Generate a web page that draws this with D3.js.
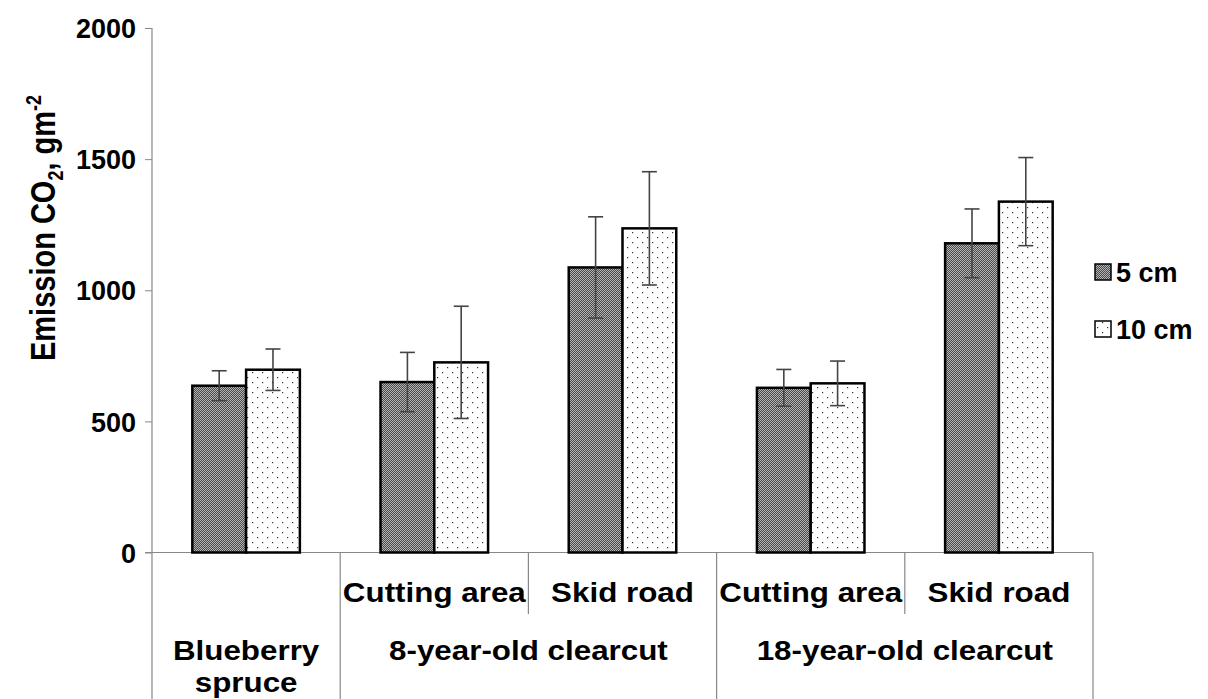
<!DOCTYPE html>
<html>
<head>
<meta charset="utf-8">
<script src="https://cdn.jsdelivr.net/npm/d3@7"></script>
<style>
  html, body { margin: 0; padding: 0; background: #fff; }
  svg { display: block; font-family: "Liberation Sans", Arial, sans-serif; font-weight: bold; }
</style>
</head>
<body>
<svg id="chart" width="1208" height="699"></svg>
<script>
// Site / position categories along the x axis
const categories = ["bs", "c8-cut", "c8-skid", "c18-cut", "c18-skid"];
const subLabels = ["", "Cutting area", "Skid road", "Cutting area", "Skid road"];
// Upper-level groups: label lines and the category index range they cover
const groupNames = [["Blueberry", "spruce"], ["8-year-old clearcut"], ["18-year-old clearcut"]];
const groupSpans = [[0, 1], [1, 3], [3, 5]];

// CO2 emission, g m^-2, by sampling depth, with error bars
const seriesNames = ["5 cm", "10 cm"];
const values5 = [636, 650, 1087, 628, 1179];
const errors5 = [57, 113, 193, 70, 131];
const values10 = [697, 725, 1236, 645, 1338];
const errors10 = [79, 214, 216, 85, 168];

const yTicks = [0, 500, 1000, 1500, 2000];

const svg = d3.select("#chart");
const plotLeft = 152, plotRight = 1093, plotTop = 28, plotBottom = 552.5;
const textStretch = 1.12;

const x = d3.scaleBand().domain(categories).range([plotLeft, plotRight]).padding(0);
const y = d3.scaleLinear().domain([0, 2000]).range([plotBottom, plotTop]);
const xs = d3.scaleBand().domain(seriesNames).range([0, x.bandwidth()]).paddingOuter(0.75).paddingInner(0);

// Fill patterns
const defs = svg.append("defs");
const p1 = defs.append("pattern").attr("id", "pat5").attr("patternUnits", "userSpaceOnUse")
  .attr("width", 2).attr("height", 2);
p1.append("rect").attr("width", 2).attr("height", 2).attr("fill", "#4a4a4a");
p1.append("rect").attr("width", 1).attr("height", 1).attr("fill", "#b4b4b4");
p1.append("rect").attr("x", 1).attr("y", 1).attr("width", 1).attr("height", 1).attr("fill", "#b4b4b4");

const p2 = defs.append("pattern").attr("id", "pat10").attr("patternUnits", "userSpaceOnUse")
  .attr("width", 10).attr("height", 10);
p2.append("rect").attr("width", 10).attr("height", 10).attr("fill", "#fff");
p2.append("rect").attr("x", 2).attr("y", 2).attr("width", 1.2).attr("height", 1.2).attr("fill", "#333");
p2.append("rect").attr("x", 7).attr("y", 7).attr("width", 1.2).attr("height", 1.2).attr("fill", "#333");

const fills = { "5 cm": "url(#pat5)", "10 cm": "url(#pat10)" };

// Y axis
const yAxis = d3.axisLeft(y).tickValues(yTicks).tickSize(7).tickPadding(9).tickFormat(d3.format("d"));
const gy = svg.append("g").attr("transform", `translate(${plotLeft},0)`).call(yAxis);
gy.select(".domain").remove();
gy.selectAll(".tick line").attr("stroke", "#888");
gy.selectAll(".tick text").attr("font-size", 27).attr("font-weight", "bold")
  .attr("fill", "#000").attr("font-family", "Liberation Sans, Arial, sans-serif").attr("dy", "0.36em");

// Axis lines
svg.append("line").attr("x1", plotLeft).attr("x2", plotLeft).attr("y1", plotTop).attr("y2", 699)
  .attr("stroke", "#888").attr("stroke-width", 1.2);
svg.append("line").attr("x1", plotLeft - 7).attr("x2", plotRight).attr("y1", plotBottom).attr("y2", plotBottom)
  .attr("stroke", "#888").attr("stroke-width", 1.2);

// Category separators below the axis
categories.forEach((c, i) => {
  if (i === 0) return;
  const xx = x(c);
  const full = groupSpans.some(s => s[0] === i);
  svg.append("line").attr("x1", xx).attr("x2", xx).attr("y1", plotBottom).attr("y2", full ? 699 : 614)
    .attr("stroke", "#888").attr("stroke-width", 1.2);
});
svg.append("line").attr("x1", plotRight).attr("x2", plotRight).attr("y1", plotBottom).attr("y2", 699)
  .attr("stroke", "#888").attr("stroke-width", 1.2);

// Bars
const rows = [];
categories.forEach((c, i) => {
  rows.push({ cat: c, s: "5 cm", v: values5[i], e: errors5[i] });
  rows.push({ cat: c, s: "10 cm", v: values10[i], e: errors10[i] });
});

svg.append("g").selectAll("rect").data(rows).join("rect")
  .attr("x", d => x(d.cat) + xs(d.s))
  .attr("y", d => y(d.v))
  .attr("width", xs.bandwidth())
  .attr("height", d => y(0) - y(d.v))
  .attr("fill", d => fills[d.s])
  .attr("stroke", "#000")
  .attr("stroke-width", 2.5);

// Error bars
const eg = svg.append("g").attr("stroke", "#444").attr("stroke-width", 1.6);
rows.forEach(d => {
  const cx = x(d.cat) + xs(d.s) + xs.bandwidth() / 2;
  eg.append("line").attr("x1", cx).attr("x2", cx).attr("y1", y(d.v + d.e)).attr("y2", y(d.v - d.e));
  [d.v + d.e, d.v - d.e].forEach(t => {
    eg.append("line").attr("x1", cx - 7.5).attr("x2", cx + 7.5).attr("y1", y(t)).attr("y2", y(t));
  });
});

// Category labels
svg.append("g").selectAll("text").data(categories).join("text")
  .attr("transform", d => `translate(${x(d) + x.bandwidth() / 2},602) scale(${textStretch},1)`)
  .attr("text-anchor", "middle")
  .attr("font-size", 28)
  .text((d, i) => subLabels[i]);

groupNames.forEach((lines, gi) => {
  const [a, b] = groupSpans[gi];
  const cx = (x(categories[a]) + x(categories[b - 1]) + x.bandwidth()) / 2;
  lines.forEach((ln, li) => {
    svg.append("text")
      .attr("transform", `translate(${cx},${660 + li * 32}) scale(${textStretch},1)`)
      .attr("text-anchor", "middle").attr("font-size", 28).text(ln);
  });
});

// Y axis title
const title = svg.append("text")
  .attr("transform", `translate(55,228) scale(1.2,1) rotate(-90)`)
  .attr("text-anchor", "middle")
  .attr("font-size", 29);
title.append("tspan").text("Emission CO");
title.append("tspan").attr("font-size", 18).attr("dy", 7).text("2");
title.append("tspan").attr("dy", -7).text(", gm");
title.append("tspan").attr("font-size", 18).attr("dy", -12).text("-2");

// Legend
const legend = svg.append("g");
seriesNames.forEach((s, i) => {
  const ly = 264 + i * 57;
  legend.append("rect").attr("x", 1095).attr("y", ly).attr("width", 16).attr("height", 16)
    .attr("fill", fills[s]).attr("stroke", "#000").attr("stroke-width", 1.5);
  legend.append("text").attr("x", 1116).attr("y", ly + 8).attr("dy", "0.36em")
    .attr("font-size", 27).text(s);
});
</script>
</body>
</html>
